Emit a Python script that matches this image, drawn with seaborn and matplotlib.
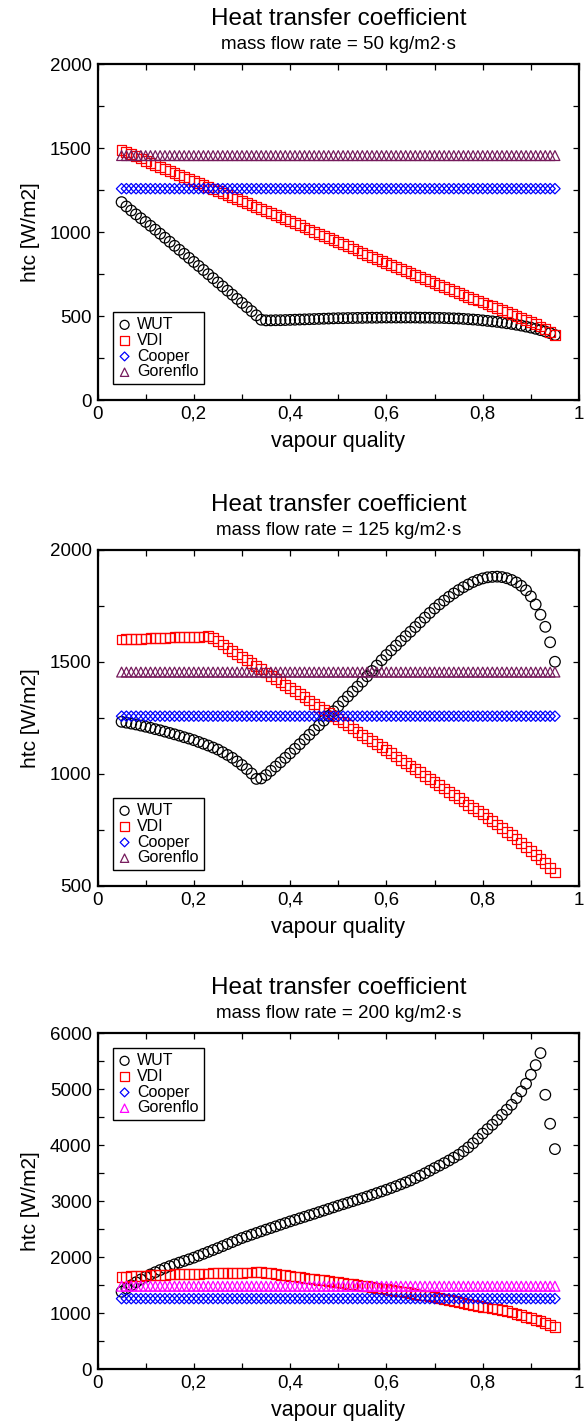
import numpy as np
import pandas as pd
import seaborn as sns
import matplotlib.pyplot as plt

sns.set_theme(style="ticks")
plt.rcParams['font.family'] = ['Liberation Sans', 'DejaVu Sans']
plt.rcParams['text.color'] = 'black'
plt.rcParams['axes.labelcolor'] = 'black'

# vapour quality grid (same for all series)
quality = [
    0.05, 0.06, 0.07, 0.08, 0.09, 0.10, 0.11, 0.12, 0.13, 0.14,
    0.15, 0.16, 0.17, 0.18, 0.19, 0.20, 0.21, 0.22, 0.23, 0.24,
    0.25, 0.26, 0.27, 0.28, 0.29, 0.30, 0.31, 0.32, 0.33, 0.34,
    0.35, 0.36, 0.37, 0.38, 0.39, 0.40, 0.41, 0.42, 0.43, 0.44,
    0.45, 0.46, 0.47, 0.48, 0.49, 0.50, 0.51, 0.52, 0.53, 0.54,
    0.55, 0.56, 0.57, 0.58, 0.59, 0.60, 0.61, 0.62, 0.63, 0.64,
    0.65, 0.66, 0.67, 0.68, 0.69, 0.70, 0.71, 0.72, 0.73, 0.74,
    0.75, 0.76, 0.77, 0.78, 0.79, 0.80, 0.81, 0.82, 0.83, 0.84,
    0.85, 0.86, 0.87, 0.88, 0.89, 0.90, 0.91, 0.92, 0.93, 0.94,
    0.95,
]

# G = 50 kg/m2s
wut_50 = [
    1178, 1152, 1128, 1105, 1082, 1060, 1037, 1014, 990, 966,
    942, 918, 894, 870, 846, 822, 798, 774, 749, 725,
    700, 676, 651, 627, 602, 578, 553, 529, 504, 478,
    474, 474, 475, 475, 476, 477, 478, 479, 480, 481,
    482, 483, 484, 485, 486, 487, 487, 488, 488, 489,
    489, 490, 490, 490, 491, 491, 491, 491, 491, 491,
    491, 491, 490, 490, 490, 489, 489, 488, 487, 486,
    485, 483, 481, 479, 477, 474, 471, 468, 465, 461,
    457, 453, 448, 443, 437, 431, 424, 416, 408, 398,
    387,
]
vdi_50 = [
    1490, 1477, 1464, 1451, 1438, 1425, 1413, 1401, 1389, 1377,
    1365, 1353, 1341, 1329, 1317, 1305, 1293, 1281, 1268, 1256,
    1244, 1232, 1220, 1207, 1195, 1183, 1171, 1159, 1147, 1136,
    1124, 1112, 1100, 1088, 1077, 1065, 1052, 1040, 1027, 1015,
    1002, 990, 977, 965, 952, 940, 927, 915, 902, 890,
    877, 865, 852, 840, 827, 815, 803, 791, 779, 767,
    755, 743, 731, 719, 707, 695, 684, 672, 661, 649,
    638, 626, 615, 603, 592, 580, 569, 558, 547, 536,
    525, 513, 501, 489, 477, 465, 452, 438, 423, 406,
    385,
]
cooper_50 = [1258] * 91
gorenflo_50 = [1455] * 91

# G = 125 kg/m2s
wut_125 = [
    1233, 1229, 1225, 1221, 1216, 1211, 1206, 1200, 1195, 1189,
    1183, 1177, 1171, 1164, 1158, 1151, 1143, 1135, 1127, 1118,
    1109, 1097, 1085, 1072, 1056, 1040, 1022, 1002, 978, 980,
    995, 1014, 1033, 1052, 1072, 1092, 1112, 1133, 1154, 1175,
    1196, 1217, 1238, 1259, 1280, 1302, 1324, 1346, 1368, 1390,
    1412, 1436, 1460, 1484, 1508, 1531, 1552, 1573, 1594, 1615,
    1635, 1656, 1677, 1698, 1719, 1739, 1757, 1774, 1791, 1806,
    1821, 1834, 1846, 1857, 1866, 1873, 1878, 1880, 1881, 1879,
    1874, 1866, 1855, 1840, 1820, 1793, 1757, 1711, 1657, 1588,
    1501,
]
vdi_125 = [
    1600, 1601, 1602, 1603, 1604, 1605, 1606, 1607, 1607, 1608,
    1609, 1610, 1610, 1611, 1612, 1612, 1613, 1614, 1615, 1606,
    1592, 1578, 1564, 1550, 1536, 1522, 1508, 1494, 1481, 1467,
    1453, 1439, 1425, 1411, 1397, 1384, 1370, 1356, 1342, 1328,
    1314, 1300, 1286, 1272, 1258, 1245, 1231, 1217, 1203, 1189,
    1175, 1161, 1147, 1133, 1120, 1106, 1092, 1078, 1064, 1050,
    1035, 1021, 1007, 992, 978, 964, 949, 935, 920, 906,
    891, 877, 862, 848, 834, 820, 805, 790, 774, 758,
    742, 726, 709, 692, 675, 657, 639, 620, 601, 581,
    560,
]
cooper_125 = [1258] * 91
gorenflo_125 = [1455] * 91

# G = 200 kg/m2s
wut_200 = [
    1380, 1440, 1497, 1550, 1600, 1647, 1690, 1730, 1768, 1804,
    1838, 1870, 1901, 1931, 1960, 1990, 2024, 2058, 2092, 2126,
    2160, 2196, 2232, 2268, 2304, 2340, 2370, 2400, 2430, 2460,
    2490, 2519, 2548, 2578, 2607, 2637, 2664, 2692, 2719, 2747,
    2774, 2803, 2831, 2860, 2888, 2917, 2944, 2971, 2998, 3026,
    3053, 3082, 3112, 3142, 3172, 3202, 3234, 3266, 3300, 3334,
    3369, 3410, 3452, 3496, 3542, 3589, 3633, 3678, 3725, 3775,
    3827, 3890, 3958, 4032, 4115, 4205, 4285, 4363, 4448, 4541,
    4631, 4720, 4839, 4958, 5095, 5256, 5428, 5643, 4898, 4381,
    3928,
]
vdi_200 = [
    1645, 1651, 1657, 1662, 1667, 1671, 1675, 1679, 1682, 1685,
    1688, 1691, 1694, 1697, 1700, 1702, 1704, 1706, 1708, 1710,
    1712, 1714, 1716, 1718, 1720, 1722, 1724, 1726, 1728, 1730,
    1722, 1710, 1698, 1686, 1674, 1663, 1652, 1640, 1629, 1618,
    1606, 1595, 1584, 1572, 1561, 1550, 1538, 1526, 1514, 1502,
    1490, 1478, 1465, 1452, 1439, 1426, 1413, 1400, 1386, 1372,
    1358, 1344, 1330, 1315, 1300, 1285, 1268, 1251, 1234, 1217,
    1200, 1183, 1166, 1149, 1132, 1115, 1099, 1083, 1067, 1050,
    1033, 1011, 988, 964, 937, 908, 880, 852, 822, 788,
    750,
]
cooper_200 = [1258] * 91
gorenflo_200 = [1480] * 91

panels = [
    ("mass flow rate = 50 kg/m2\u00b7s", wut_50, vdi_50, cooper_50, gorenflo_50,
     (0, 2000), 250, 500, "#751a5c", "lower left"),
    ("mass flow rate = 125 kg/m2\u00b7s", wut_125, vdi_125, cooper_125, gorenflo_125,
     (500, 2000), 250, 500, "#751a5c", "lower left"),
    ("mass flow rate = 200 kg/m2\u00b7s", wut_200, vdi_200, cooper_200, gorenflo_200,
     (0, 6000), 500, 1000, "#ff00ff", "upper left"),
]

fig = plt.figure(figsize=(5.87, 14.23), dpi=100)
bottoms = [0.7189, 0.3774, 0.0379]

for (sub, wut, vdi, coop, gor, ylim, ystep, ylab, gcol, loc), b in zip(panels, bottoms):
    ax = fig.add_axes([0.1661, b, 0.8203, 0.2361])
    df = pd.DataFrame({"x": quality, "WUT": wut, "VDI": vdi, "Cooper": coop, "Gorenflo": gor})

    series = [("WUT", "o", 58, "black"), ("VDI", "s", 50, "red"),
              ("Cooper", "D", 28, "blue"), ("Gorenflo", "^", 50, gcol)]
    for name, mk, size, col in series:
        sns.scatterplot(data=df, x="x", y=name, marker=mk, s=size, color=col,
                        edgecolor=col, facecolor="none", linewidth=0.9,
                        label=name, ax=ax)

    ax.set_xlim(0, 1)
    ax.set_ylim(*ylim)
    xt = np.round(np.arange(0, 1.001, 0.1), 1)
    ax.set_xticks(xt)
    ax.set_xticklabels(["0" if v == 0 else "1" if v == 1 else
                        (f"{v:.1f}".replace(".", ",") if round(v * 10) % 2 == 0 else "")
                        for v in xt])
    yt = np.arange(ylim[0], ylim[1] + 1, ystep)
    ax.set_yticks(yt)
    ax.set_yticklabels([str(v) if v % ylab == 0 else "" for v in yt])
    ax.tick_params(direction="in", top=True, right=True, length=4.5, width=0.9,
                   labelsize=13.5, pad=4, colors="black")
    for sp in ax.spines.values():
        sp.set_linewidth(1.6)
        sp.set_color("black")

    ax.set_xlabel("vapour quality", fontsize=15.5, labelpad=6)
    ax.set_ylabel("htc [W/m2]", fontsize=15, labelpad=7)

    ax.annotate("Heat transfer coefficient", xy=(0.5, 1), xycoords="axes fraction",
                xytext=(0, 28), textcoords="offset points", ha="center", va="baseline",
                fontsize=17.5)
    ax.annotate(sub, xy=(0.5, 1), xycoords="axes fraction",
                xytext=(0, 11), textcoords="offset points", ha="center", va="baseline",
                fontsize=13.5)

    anchor = (0.033, 0.047) if loc == "lower left" else (0.033, 0.955)
    leg = ax.legend(loc=loc, bbox_to_anchor=anchor, borderaxespad=0, fontsize=11.5,
                    frameon=True, fancybox=False, framealpha=1, edgecolor="black",
                    markerscale=0.85, handlelength=0.8, handletextpad=0.4,
                    labelspacing=0.05, borderpad=0.3)
    leg.get_frame().set_linewidth(1.0)

fig.savefig("out.png", dpi=100)
